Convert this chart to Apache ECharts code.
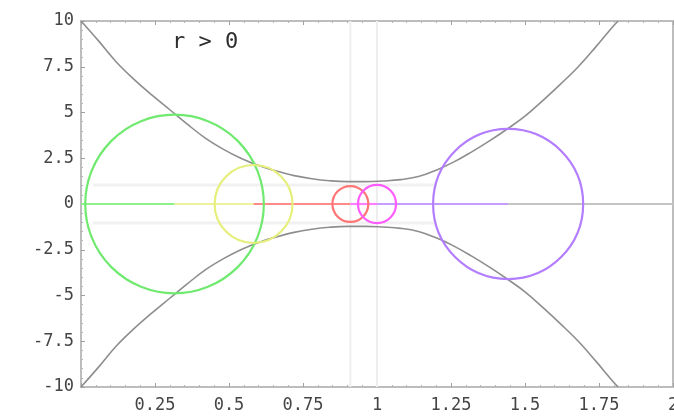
<!DOCTYPE html>
<html>
<head>
<meta charset="utf-8">
<script src="https://cdn.jsdelivr.net/npm/echarts@6/dist/echarts.min.js"></script>
<style>
html,body{margin:0;padding:0;background:#fff;}
#chart{width:674px;height:417px;}
</style>
</head>
<body>
<div id="chart"></div>
<script>
// ---- data ----
var xTicks = [0, 0.25, 0.5, 0.75, 1, 1.25, 1.5, 1.75, 2];
var yTicks = [-10, -7.5, -5, -2.5, 0, 2.5, 5, 7.5, 10];

// envelope curve (upper and lower branches)
var curveX =      [0,   0.06, 0.12, 0.18, 0.24, 0.30, 0.36, 0.42, 0.48, 0.54, 0.60, 0.66, 0.72, 0.78, 0.84, 0.90, 0.96, 1.02, 1.08, 1.14, 1.20, 1.26, 1.32, 1.38, 1.44, 1.50, 1.56, 1.62, 1.68, 1.74, 1.80, 1.815];
var curveUpperY = [10,  8.9,  7.75, 6.8,  5.95, 5.15, 4.35, 3.6,  3.0,  2.5,  2.1,  1.8,  1.55, 1.38, 1.27, 1.22, 1.22, 1.26, 1.33, 1.5,  1.85, 2.3,  2.85, 3.45, 4.1,  4.8,  5.65, 6.55, 7.5,  8.6,  9.75, 10];
var curveLowerY = [-10, -8.9, -7.75,-6.8, -5.95,-5.15,-4.35,-3.6, -3.0, -2.5, -2.1, -1.8, -1.55,-1.38,-1.27,-1.22,-1.22,-1.26,-1.33,-1.5, -1.85,-2.3, -2.85,-3.45,-4.1, -4.8, -5.65,-6.55,-7.5, -8.6, -9.75,-10];

// circles centred on the x axis: centre x, radius (in y units)
var circleNames   = ['green', 'yellow', 'red', 'magenta', 'purple'];
var circleCenters = [0.316, 0.583, 0.91, 1.0, 1.443];
var circleRadii   = [4.88, 2.13, 0.98, 1.04, 4.1];

// segments along y = 0: from previous centre to each centre, then to the end
var segmentStarts = [0, 0.316, 0.583, 0.91, 1.0, 1.443];
var segmentEnds   = [0.316, 0.583, 0.91, 1.0, 1.443, 2];

// faint guide lines
var guideVerticalX = [0.91, 1.0];
var guideHorizontalY = [1.04, -1.04];
var guideHorizontalRange = [0.04, 1.2];

var labelText = 'r > 0';

// ---- styles ----
var circleColors  = ['#6fea6f', '#e6ef7c', '#ff7474', '#ff5cff', '#b37dff'];
var segmentColors = ['#8cf08c', '#eef29a', '#ff8a8a', '#ff80ff', '#c69cff', '#c4c4c4'];

var chart = echarts.init(document.getElementById('chart'), null, {renderer: 'canvas'});

var series = [];

// faint guides
guideVerticalX.forEach(function (gx) {
  series.push({
    type: 'line', data: [[gx, -10], [gx, 10]], showSymbol: false, silent: true,
    lineStyle: {color: '#eeeeee', width: 2}, z: 1
  });
});
guideHorizontalY.forEach(function (gy) {
  series.push({
    type: 'line', data: [[guideHorizontalRange[0], gy], [guideHorizontalRange[1], gy]], showSymbol: false, silent: true,
    lineStyle: {color: '#f1f1f1', width: 3}, z: 1
  });
});

// envelope curves
series.push({
  type: 'line', data: curveX.map(function (x, i) { return [x, curveUpperY[i]]; }),
  smooth: 0.4, showSymbol: false, silent: true,
  lineStyle: {color: '#8e8e8e', width: 1.6}, z: 3
});
series.push({
  type: 'line', data: curveX.map(function (x, i) { return [x, curveLowerY[i]]; }),
  smooth: 0.4, showSymbol: false, silent: true,
  lineStyle: {color: '#8e8e8e', width: 1.6}, z: 3
});

// axis segments
segmentStarts.forEach(function (s, i) {
  series.push({
    type: 'line', data: [[s, 0], [segmentEnds[i], 0]], showSymbol: false, silent: true,
    lineStyle: {color: segmentColors[i], width: 2.2}, z: 4
  });
});

// circles
series.push({
  type: 'custom',
  silent: true,
  z: 5,
  data: circleCenters.map(function (c, i) { return [c, 0, circleRadii[i], i]; }),
  renderItem: function (params, api) {
    var c = api.coord([api.value(0), api.value(1)]);
    var r = api.size([0, api.value(2)])[1];
    var idx = api.value(3);
    return {
      type: 'circle',
      shape: {cx: c[0], cy: c[1], r: r},
      style: {fill: null, stroke: circleColors[idx], lineWidth: 2.2}
    };
  }
});

var labelStyle = {color: '#454545', fontSize: 17, fontFamily: 'DejaVu Sans Mono, monospace'};
var frameLine = {show: true, onZero: false, lineStyle: {color: '#bdbdbd', width: 2}};
var tickStyle = {show: true, inside: true, length: 4, lineStyle: {color: '#a0a0a0'}};
var minorStyle = {show: true, splitNumber: 5, length: 2, lineStyle: {color: '#b4b4b4'}};

chart.setOption({
  animation: false,
  backgroundColor: '#ffffff',
  grid: {left: 81, right: 1, top: 21, bottom: 30, containLabel: false, outerBoundsMode: 'none'},
  xAxis: [{
    type: 'value', min: xTicks[0], max: xTicks[xTicks.length - 1], interval: 0.25,
    position: 'bottom',
    axisLine: frameLine,
    axisTick: tickStyle,
    minorTick: minorStyle,
    splitLine: {show: false},
    axisLabel: Object.assign({margin: 10, formatter: function (v) { return v === 0 ? '' : String(v); }}, labelStyle)
  }, {
    type: 'value', min: xTicks[0], max: xTicks[xTicks.length - 1], interval: 0.25,
    position: 'top',
    axisLine: frameLine,
    axisTick: tickStyle,
    minorTick: minorStyle,
    splitLine: {show: false},
    axisLabel: {show: false}
  }],
  yAxis: [{
    type: 'value', min: yTicks[0], max: yTicks[yTicks.length - 1], interval: 2.5,
    position: 'left',
    axisLine: frameLine,
    axisTick: tickStyle,
    minorTick: minorStyle,
    splitLine: {show: false},
    axisLabel: Object.assign({margin: 7}, labelStyle)
  }, {
    type: 'value', min: yTicks[0], max: yTicks[yTicks.length - 1], interval: 2.5,
    position: 'right',
    axisLine: frameLine,
    axisTick: {show: false},
    splitLine: {show: false},
    axisLabel: {show: false}
  }],
  graphic: [{
    type: 'text', left: 172, top: 31,
    style: {text: labelText, fill: '#2e2e2e', font: '22px DejaVu Sans Mono, monospace'}
  }],
  series: series
});
</script>
</body>
</html>
